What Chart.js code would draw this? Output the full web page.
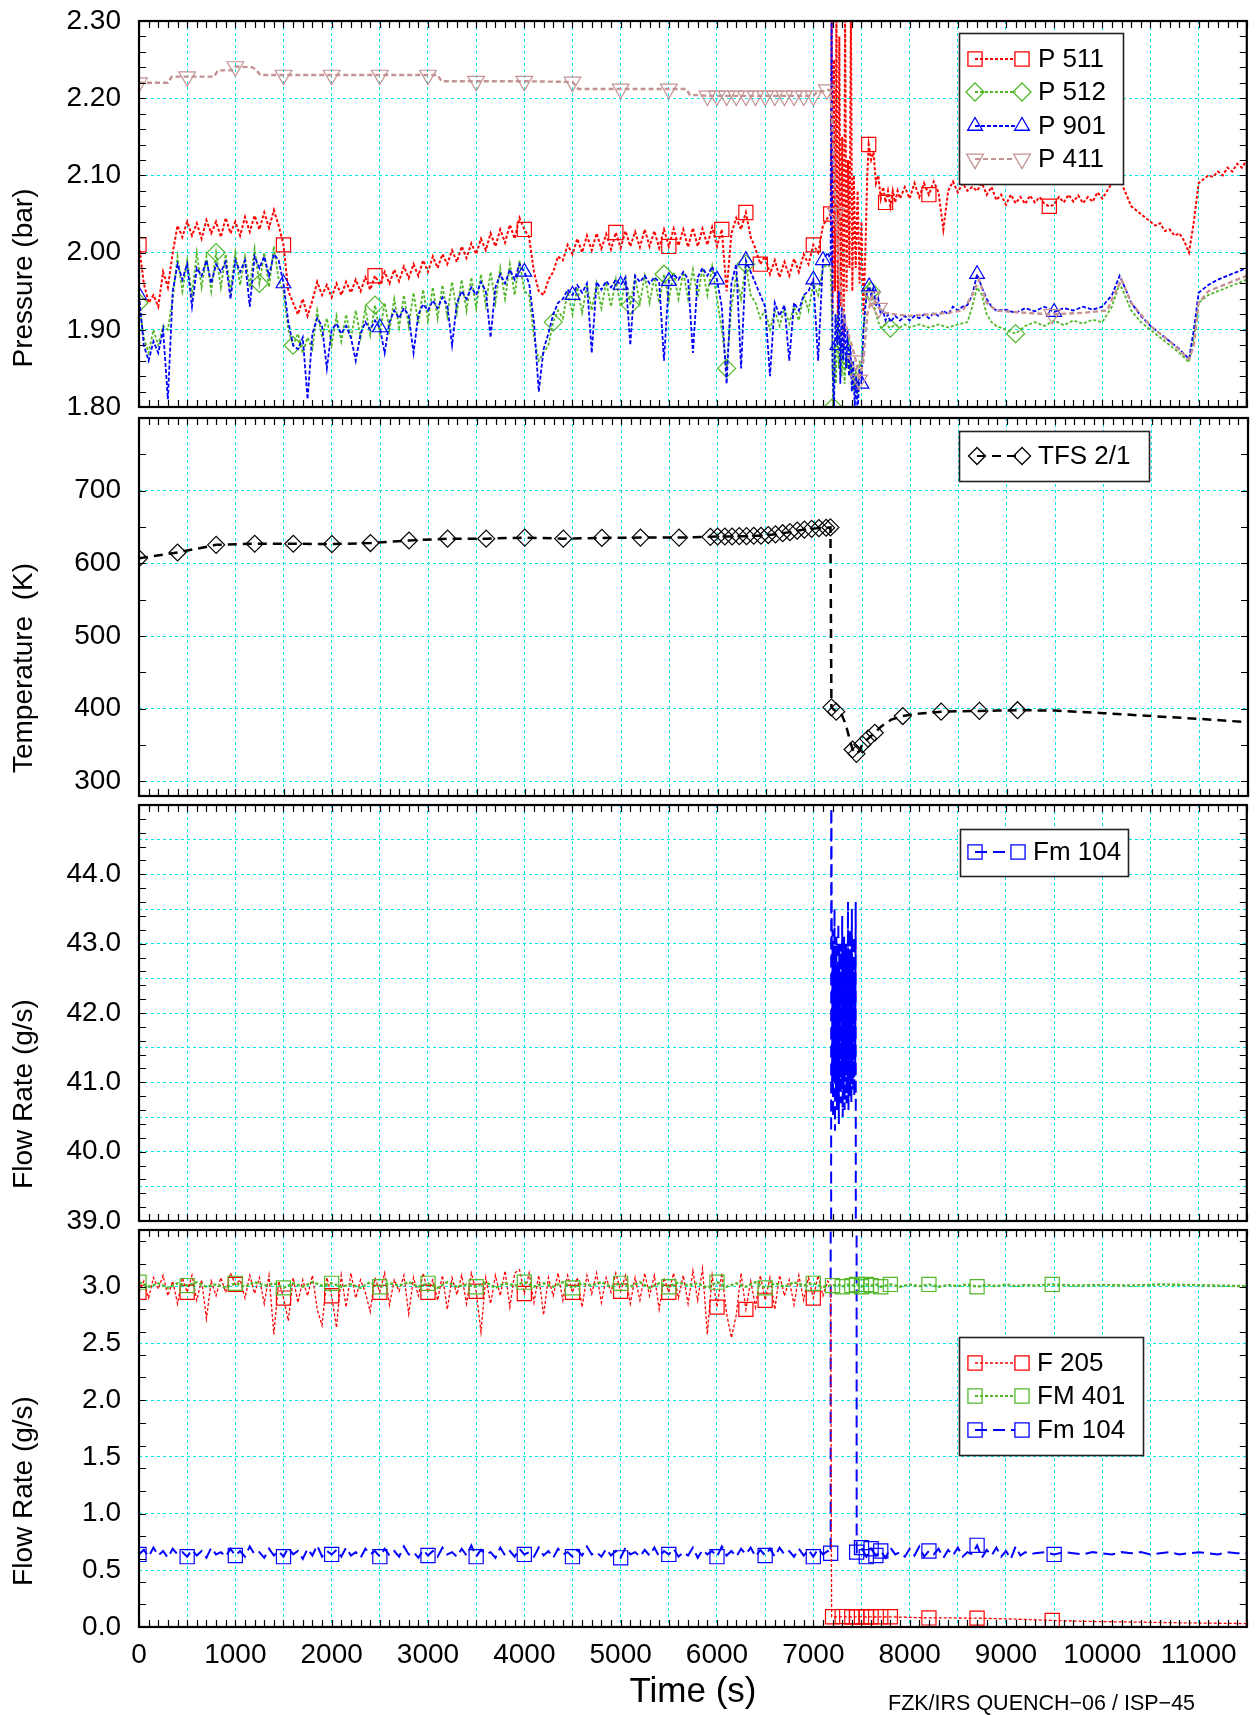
<!DOCTYPE html>
<html>
<head>
<meta charset="utf-8">
<title>QUENCH-06 pressures, temperature and flow rates</title>
<script src="https://cdn.jsdelivr.net/npm/chart.js@4.4.1/dist/chart.umd.min.js"></script>
<style>
  html, body { margin: 0; padding: 0; background: #fff; }
  #wrap { position: relative; width: 1258px; height: 1715px; overflow: hidden; background: #fff; }
  #wrap canvas { position: absolute; left: 0; }
</style>
</head>
<body>
<div id="wrap">
  <canvas id="pressure"></canvas>
  <canvas id="temperature"></canvas>
  <canvas id="flowHigh"></canvas>
  <canvas id="flowLow"></canvas>
</div>
<script>
// ---------------- axes ----------------
const timeGrid = [0, 500, 1000, 1500, 2000, 2500, 3000, 3500, 4000, 4500, 5000, 5500,
                  6000, 6500, 7000, 7500, 8000, 8500, 9000, 9500, 10000, 10500, 11000, 11500];
const pressureTicks = [1.8, 1.9, 2.0, 2.1, 2.2, 2.3];
const temperatureTicks = [300, 400, 500, 600, 700];
const surgeTicks = [39, 39.5, 40, 40.5, 41, 41.5, 42, 42.5, 43, 43.5, 44, 44.5];
const flowTicks = [0, 0.5, 1.0, 1.5, 2.0, 2.5, 3.0];

// ---------------- pressure (bar) ----------------
// P 511, sampled every 50 s from 0 s to 7150 s
const p511Early = [
  2.010, 1.960, 1.935, 1.945, 1.930, 1.975, 1.955, 2.000, 2.035, 2.020,
  2.040, 2.022, 2.038, 2.018, 2.042, 2.025, 2.040, 2.020, 2.045, 2.025,
  2.040, 2.022, 2.046, 2.027, 2.048, 2.030, 2.052, 2.032, 2.055, 2.035,
  2.010, 1.950, 1.935, 1.920, 1.940, 1.918, 1.938, 1.962, 1.945, 1.958,
  1.942, 1.960, 1.945, 1.962, 1.948, 1.965, 1.950, 1.968, 1.952, 1.970,
  1.958, 1.975, 1.960, 1.978, 1.963, 1.982, 1.967, 1.985, 1.970, 1.990,
  1.975, 1.995, 1.980, 1.998, 1.985, 2.003, 1.988, 2.008, 1.993, 2.012,
  1.998, 2.018, 2.003, 2.025, 2.008, 2.030, 2.013, 2.036, 2.018, 2.045,
  2.030, 2.020, 1.975, 1.950, 1.945, 1.965, 1.975, 1.995, 1.990, 2.010,
  1.998, 2.018, 2.000, 2.022, 2.003, 2.025, 2.005, 2.024, 2.004, 2.026,
  2.006, 2.028, 2.008, 2.027, 2.007, 2.030, 2.008, 2.028, 2.006, 2.030,
  2.008, 2.031, 2.009, 2.030, 2.007, 2.032, 2.008, 2.031, 2.010, 2.033,
  2.008, 2.030, 1.950, 2.025, 2.045, 2.030, 2.052, 2.020, 2.005, 1.985,
  1.995, 1.972, 1.990, 1.968, 1.988, 1.970, 1.992, 1.975, 1.998, 1.985,
  2.010, 2.000, 2.035, 2.045
];
const p511Late = [
  [7180, 2.05], [7190, 2.31], [7200, 1.92], [7215, 2.25], [7225, 1.95], [7240, 2.31], [7255, 1.90],
  [7270, 2.28], [7285, 1.93], [7300, 2.15], [7315, 1.88], [7330, 2.31], [7345, 1.95], [7360, 2.12],
  [7375, 1.98], [7390, 2.31], [7405, 1.95], [7420, 2.10], [7440, 1.98], [7460, 2.08], [7480, 1.96],
  [7500, 2.04], [7520, 1.92], [7540, 2.00], [7560, 2.10], [7575, 2.14], [7600, 2.12], [7625, 2.13],
  [7650, 2.09], [7675, 2.10], [7700, 2.07], [7725, 2.085], [7750, 2.065], [7775, 2.08], [7800, 2.06],
  [7825, 2.08], [7850, 2.065], [7875, 2.08], [7900, 2.07], [7950, 2.085], [8000, 2.07], [8050, 2.09],
  [8100, 2.072], [8150, 2.09], [8200, 2.075], [8250, 2.092], [8300, 2.078], [8350, 2.03], [8400, 2.08],
  [8450, 2.092], [8500, 2.078], [8550, 2.09], [8600, 2.08], [8650, 2.085], [8700, 2.08], [8750, 2.09],
  [8800, 2.075], [8850, 2.085], [8900, 2.068], [8950, 2.075], [9000, 2.062], [9050, 2.075], [9100, 2.064],
  [9150, 2.072], [9200, 2.063], [9250, 2.074], [9300, 2.065], [9350, 2.072], [9400, 2.063], [9450, 2.06],
  [9500, 2.062], [9550, 2.072], [9600, 2.065], [9650, 2.075], [9700, 2.066], [9750, 2.074], [9800, 2.064],
  [9850, 2.072], [9900, 2.066], [9950, 2.078], [10000, 2.07], [10050, 2.08], [10100, 2.09], [10150, 2.105],
  [10200, 2.09], [10250, 2.075], [10300, 2.06], [10350, 2.055], [10400, 2.05], [10450, 2.045], [10500, 2.04],
  [10550, 2.035], [10600, 2.038], [10650, 2.028], [10700, 2.03], [10750, 2.022], [10800, 2.025], [10850, 2.015],
  [10900, 2.0], [10950, 2.04], [11000, 2.09], [11050, 2.095], [11100, 2.1], [11150, 2.098], [11200, 2.105],
  [11250, 2.1], [11300, 2.11], [11350, 2.105], [11400, 2.115], [11450, 2.11], [11500, 2.12]
];
const p511Marks = [0, 1500, 2450, 4000, 4950, 5500, 6050, 6300, 6450, 7000, 7180, 7575, 7750, 8200, 9450];

// P 512, sampled every 50 s from 0 s to 7150 s
const p512Early = [
  1.935, 1.890, 1.870, 1.900, 1.880, 1.905, 1.900, 1.940, 1.995, 1.950,
  1.990, 1.945, 2.000, 1.955, 1.995, 1.950, 2.000, 1.955, 1.998, 1.950,
  2.000, 1.958, 1.995, 1.955, 2.005, 1.960, 2.000, 1.955, 2.008, 1.965,
  1.950, 1.900, 1.880, 1.895, 1.870, 1.890, 1.875, 1.925, 1.890, 1.915,
  1.880, 1.918, 1.885, 1.920, 1.888, 1.925, 1.890, 1.928, 1.893, 1.932,
  1.895, 1.935, 1.900, 1.940, 1.903, 1.945, 1.905, 1.948, 1.908, 1.952,
  1.912, 1.955, 1.915, 1.958, 1.918, 1.962, 1.922, 1.965, 1.925, 1.968,
  1.928, 1.972, 1.932, 1.975, 1.935, 1.980, 1.940, 1.985, 1.945, 1.990,
  1.950, 1.945, 1.890, 1.860, 1.870, 1.880, 1.910, 1.925, 1.915, 1.950,
  1.920, 1.955, 1.922, 1.958, 1.925, 1.960, 1.928, 1.962, 1.930, 1.965,
  1.930, 1.966, 1.932, 1.968, 1.935, 1.970, 1.935, 1.968, 1.935, 1.972,
  1.938, 1.975, 1.940, 1.975, 1.940, 1.978, 1.942, 1.980, 1.945, 1.982,
  1.940, 1.900, 1.850, 1.930, 1.970, 1.940, 1.985, 1.945, 1.935, 1.915,
  1.925, 1.900, 1.925, 1.905, 1.928, 1.908, 1.930, 1.912, 1.945, 1.925,
  1.960, 1.945, 1.980, 1.985
];
const p512Late = [
  [7180, 1.98], [7195, 1.90], [7205, 1.80], [7220, 1.88], [7235, 1.83], [7250, 1.92], [7265, 1.85],
  [7280, 1.90], [7295, 1.84], [7310, 1.88], [7325, 1.83], [7340, 1.87], [7355, 1.85], [7370, 1.89],
  [7385, 1.84], [7400, 1.86], [7420, 1.82], [7440, 1.85], [7460, 1.81], [7480, 1.86], [7500, 1.84],
  [7520, 1.90], [7540, 1.93], [7560, 1.955], [7580, 1.96], [7600, 1.95], [7625, 1.935], [7650, 1.92],
  [7675, 1.91], [7700, 1.903], [7750, 1.907], [7800, 1.902], [7850, 1.907], [7900, 1.903], [7950, 1.907],
  [8000, 1.903], [8100, 1.907], [8200, 1.903], [8300, 1.907], [8400, 1.903], [8500, 1.907], [8600, 1.91],
  [8650, 1.93], [8700, 1.955], [8750, 1.945], [8800, 1.92], [8850, 1.91], [8900, 1.905], [9000, 1.90],
  [9100, 1.895], [9200, 1.905], [9300, 1.91], [9400, 1.905], [9500, 1.912], [9600, 1.906], [9700, 1.912],
  [9800, 1.908], [9900, 1.913], [10000, 1.91], [10100, 1.93], [10180, 1.96], [10250, 1.94], [10300, 1.925],
  [10400, 1.91], [10500, 1.90], [10600, 1.89], [10700, 1.88], [10800, 1.87], [10900, 1.858], [10950, 1.89],
  [11000, 1.935], [11100, 1.945], [11200, 1.95], [11300, 1.955], [11400, 1.96], [11500, 1.965]
];
const p512Marks = [0, 800, 1250, 1600, 2450, 4300, 5100, 5450, 6100, 6300, 7205, 7600, 7800, 9100];

// P 901, sampled every 50 s from 0 s to 7150 s
const p901Early = [
  1.945, 1.880, 1.860, 1.885, 1.870, 1.900, 1.810, 1.950, 1.985, 1.965,
  1.985, 1.930, 1.980, 1.970, 1.990, 1.960, 1.985, 1.975, 1.988, 1.940,
  1.990, 1.975, 1.990, 1.930, 1.995, 1.980, 1.995, 1.970, 1.998, 1.990,
  1.960, 1.910, 1.880, 1.875, 1.890, 1.810, 1.895, 1.915, 1.905, 1.850,
  1.900, 1.908, 1.895, 1.905, 1.890, 1.860, 1.895, 1.910, 1.900, 1.912,
  1.903, 1.870, 1.910, 1.925, 1.915, 1.928, 1.918, 1.870, 1.920, 1.933,
  1.925, 1.938, 1.928, 1.942, 1.932, 1.880, 1.935, 1.950, 1.940, 1.955,
  1.945, 1.962, 1.950, 1.890, 1.955, 1.972, 1.960, 1.978, 1.965, 1.985,
  1.975, 1.960, 1.910, 1.820, 1.875, 1.895, 1.920, 1.935, 1.940, 1.952,
  1.945, 1.958, 1.948, 1.960, 1.870, 1.962, 1.952, 1.963, 1.955, 1.965,
  1.958, 1.968, 1.880, 1.970, 1.962, 1.970, 1.960, 1.968, 1.962, 1.860,
  1.963, 1.972, 1.965, 1.975, 1.966, 1.870, 1.968, 1.980, 1.970, 1.982,
  1.965, 1.930, 1.830, 1.960, 1.985, 1.850, 1.990, 1.975, 1.960, 1.945,
  1.930, 1.840, 1.935, 1.918, 1.932, 1.860, 1.935, 1.925, 1.945, 1.950,
  1.965, 1.860, 1.990, 2.000
];
const p901Late = [
  [7180, 1.99], [7190, 2.31], [7200, 1.85], [7215, 1.80], [7230, 1.92], [7250, 1.88], [7265, 1.95],
  [7280, 1.83], [7295, 1.93], [7310, 1.86], [7325, 1.92], [7340, 1.85], [7355, 1.90], [7370, 1.84],
  [7385, 1.88], [7400, 1.82], [7415, 1.86], [7430, 1.80], [7445, 1.84], [7460, 1.79], [7480, 1.85],
  [7500, 1.83], [7520, 1.90], [7540, 1.93], [7560, 1.95], [7580, 1.956], [7600, 1.945], [7625, 1.955],
  [7650, 1.93], [7675, 1.94], [7700, 1.92], [7725, 1.925], [7750, 1.912], [7775, 1.92], [7800, 1.91],
  [7850, 1.918], [7900, 1.912], [7950, 1.918], [8000, 1.912], [8050, 1.918], [8100, 1.915], [8150, 1.92],
  [8200, 1.915], [8250, 1.922], [8300, 1.918], [8350, 1.925], [8400, 1.92], [8450, 1.93], [8500, 1.925],
  [8550, 1.93], [8600, 1.932], [8650, 1.945], [8700, 1.972], [8750, 1.955], [8800, 1.94], [8850, 1.93],
  [8900, 1.925], [9000, 1.926], [9100, 1.922], [9200, 1.928], [9300, 1.924], [9400, 1.93], [9500, 1.923],
  [9600, 1.928], [9700, 1.925], [9800, 1.93], [9900, 1.926], [10000, 1.93], [10100, 1.945], [10180, 1.97],
  [10250, 1.95], [10300, 1.935], [10400, 1.918], [10500, 1.905], [10600, 1.895], [10700, 1.885], [10800, 1.875],
  [10900, 1.862], [10950, 1.90], [11000, 1.948], [11100, 1.958], [11200, 1.965], [11300, 1.97], [11400, 1.975],
  [11500, 1.98]
];
const p901Marks = [0, 1500, 2500, 4000, 4500, 5000, 5500, 6000, 6300, 7000, 7100, 7250, 7500, 7580, 8700, 9500];

// P 411
const p411Points = [
  [0, 2.220], [300, 2.220], [340, 2.228], [500, 2.228], [780, 2.228], [820, 2.236], [960, 2.236],
  [1000, 2.241], [1180, 2.240], [1220, 2.236], [1260, 2.230], [1500, 2.230], [2000, 2.230], [2500, 2.230],
  [3000, 2.230], [3100, 2.230], [3140, 2.222], [3500, 2.222], [4000, 2.222], [4500, 2.221], [4560, 2.212],
  [5000, 2.212], [5500, 2.212], [5680, 2.212], [5720, 2.204], [5800, 2.204], [5900, 2.203], [6000, 2.203],
  [6100, 2.203], [6200, 2.203], [6300, 2.203], [6400, 2.203], [6500, 2.203], [6600, 2.203], [6700, 2.203],
  [6800, 2.203], [6900, 2.203], [7000, 2.203], [7040, 2.208], [7100, 2.209], [7140, 2.211], [7180, 2.21],
  [7200, 2.16], [7234, 2.051], [7270, 1.97], [7310, 1.92], [7350, 1.90], [7400, 1.88], [7442, 1.86],
  [7476, 1.835], [7520, 1.86], [7560, 1.92], [7612, 1.943], [7650, 1.935], [7680, 1.928], [7750, 1.922],
  [7850, 1.92], [8000, 1.918], [8200, 1.92], [8400, 1.922], [8550, 1.925], [8650, 1.945], [8720, 1.965],
  [8800, 1.935], [8900, 1.925], [9200, 1.922], [9480, 1.920], [9800, 1.922], [10050, 1.925], [10120, 1.945],
  [10200, 1.965], [10300, 1.935], [10500, 1.905], [10700, 1.885], [10900, 1.862], [10950, 1.88], [11000, 1.935],
  [11100, 1.95], [11300, 1.96], [11500, 1.97]
];
const p411Marks = [0, 500, 1000, 1500, 2000, 2500, 3000, 3500, 4000, 4500, 5000, 5500, 5900, 6000, 6100,
  6200, 6300, 6400, 6500, 6600, 6700, 6800, 6900, 7000, 7140, 7234, 7442, 7476, 7612, 7680, 9480];

// ---------------- temperature (K) ----------------
const tfsPoints = [
  [0, 607], [400, 615], [800, 625.5], [1200, 627], [1600, 627], [2000, 626.5], [2400, 628], [2800, 631.5],
  [3200, 634], [3600, 634], [4000, 635.5], [4400, 634], [4800, 635], [5200, 635.5], [5600, 635.5],
  [5925, 636.5], [6000, 637], [6075, 637], [6150, 637], [6225, 637.5], [6300, 637.5], [6375, 638], [6450, 638],
  [6525, 639], [6600, 640], [6675, 641.5], [6750, 643], [6825, 645], [6900, 646.5], [6975, 647.5], [7050, 648.5],
  [7125, 649], [7170, 649.5], [7180, 402], [7230, 396], [7290, 391], [7330, 378], [7365, 360], [7400, 344],
  [7440, 338], [7470, 342], [7500, 351], [7560, 359], [7630, 367], [7700, 376], [7800, 385], [7920, 390],
  [8050, 393], [8318, 396], [8500, 396.5], [8715, 397], [8900, 397.5], [9110, 398], [9500, 397.5],
  [10000, 394], [10500, 390], [11000, 386], [11450, 382]
];
const tfsMarks = [0, 400, 800, 1200, 1600, 2000, 2400, 2800, 3200, 3600, 4000, 4400, 4800, 5200, 5600,
  5925, 6000, 6075, 6150, 6225, 6300, 6375, 6450, 6525, 6600, 6675, 6750, 6825, 6900, 6975, 7050, 7125, 7170,
  7180, 7230, 7400, 7440, 7500, 7560, 7630, 7920, 8318, 8715, 9110];

// ---------------- flow rates (g/s) ----------------
// F 205, sampled every 50 s from 0 s to 7150 s
const f205Early = [
  2.95, 3.05, 2.90, 3.08, 2.98, 3.10, 2.92, 3.05, 2.85, 3.08,
  2.95, 3.10, 2.88, 3.06, 2.72, 3.05, 2.92, 3.08, 2.95, 3.12,
  3.02, 3.06, 2.90, 3.10, 2.94, 3.08, 2.85, 3.10, 2.58, 3.05,
  2.90, 2.70, 3.08, 2.86, 3.06, 2.92, 3.10, 2.80, 2.66, 3.08,
  2.92, 2.64, 3.10, 2.82, 3.12, 2.90, 3.06, 2.95, 2.78, 3.08,
  2.95, 3.12, 2.84, 3.06, 2.96, 3.10, 2.76, 3.08, 2.92, 3.12,
  2.95, 3.06, 2.88, 3.10, 2.80, 3.08, 2.93, 3.10, 2.85, 3.12,
  2.96, 2.60, 3.08, 2.85, 3.10, 2.92, 3.14, 2.82, 3.12, 3.15,
  2.94, 3.12, 2.86, 3.10, 2.75, 3.08, 2.92, 3.12, 2.88, 3.10,
  2.95, 3.08, 2.82, 3.10, 2.94, 3.12, 2.86, 3.08, 2.95, 3.12,
  2.96, 3.10, 2.85, 3.08, 2.88, 3.12, 2.92, 3.10, 2.80, 3.08,
  2.95, 3.12, 2.90, 3.10, 2.85, 3.14, 2.88, 3.16, 2.58, 3.10,
  2.82, 3.12, 2.76, 2.55, 2.75, 3.12, 2.80, 3.05, 2.82, 3.10,
  2.88, 3.08, 2.80, 3.10, 2.92, 3.06, 2.84, 3.10, 2.88, 3.08,
  2.90, 3.10, 2.92, 3.05
];
const f205Late = [
  [7180, 3.02], [7190, 0.09], [7200, 0.09], [7250, 0.088], [7300, 0.092], [7350, 0.09], [7400, 0.088],
  [7450, 0.09], [7500, 0.092], [7550, 0.088], [7600, 0.09], [7650, 0.088], [7700, 0.09], [7750, 0.088],
  [7800, 0.09], [8000, 0.085], [8200, 0.08], [8450, 0.08], [8700, 0.078], [9000, 0.072], [9250, 0.065],
  [9480, 0.058], [9800, 0.05], [10200, 0.045], [10600, 0.04], [11000, 0.035], [11500, 0.03]
];
const f205Marks = [0, 500, 1000, 1500, 2000, 2500, 3000, 3500, 4000, 4500, 5000, 5500, 6000, 6300, 6500, 7000,
  7200, 7300, 7400, 7450, 7500, 7550, 7600, 7700, 7800, 8200, 8700, 9480];

// FM 401, sampled every 100 s from 0 s to 7100 s
const fm401Early = [
  3.04, 3.00, 3.03, 2.99, 3.03, 3.01, 3.04, 3.00, 3.02, 2.99,
  3.03, 3.00, 3.04, 3.01, 3.03, 2.99, 3.03, 3.00, 3.04, 3.01,
  3.03, 3.00, 3.02, 2.99, 3.04, 3.00, 3.03, 3.01, 3.04, 3.00,
  3.03, 2.99, 3.04, 3.00, 3.02, 3.00, 3.04, 2.99, 3.03, 3.01,
  3.04, 3.00, 3.03, 3.00, 3.04, 2.99, 3.03, 3.01, 3.04, 3.00,
  3.03, 3.00, 3.04, 2.99, 3.03, 3.00, 3.04, 3.01, 3.03, 2.99,
  3.04, 3.00, 3.03, 3.00, 3.04, 2.99, 3.03, 3.00, 3.04, 3.01,
  3.03, 3.00
];
const fm401Late = [
  [7200, 3.01], [7250, 3.02], [7300, 3.00], [7350, 3.02], [7400, 3.01], [7450, 3.02], [7500, 3.00],
  [7550, 3.02], [7600, 3.01], [7650, 3.02], [7700, 3.00], [7750, 3.01], [7800, 3.02], [7900, 3.00],
  [8000, 3.02], [8100, 3.005], [8200, 3.02], [8300, 3.00], [8400, 3.015], [8500, 3.005], [8600, 3.02],
  [8700, 3.00], [8800, 3.015], [8900, 3.005], [9000, 3.02], [9100, 3.005], [9200, 3.015], [9300, 3.01],
  [9480, 3.02], [9700, 3.01], [10000, 3.015], [10300, 3.01], [10600, 3.02], [10900, 3.015], [11200, 3.01],
  [11500, 3.005]
];
const fm401Marks = [0, 500, 1000, 1500, 2000, 2500, 3000, 3500, 4000, 4500, 5000, 5500, 6000, 6500, 7000,
  7200, 7300, 7400, 7450, 7500, 7550, 7600, 7700, 7800, 8200, 8700, 9480];

// Fm 104, sampled every 50 s from 0 s to 7150 s
const fm104Early = [
  0.64, 0.68, 0.62, 0.70, 0.63, 0.67, 0.61, 0.69, 0.64, 0.66,
  0.62, 0.68, 0.63, 0.67, 0.61, 0.70, 0.64, 0.66, 0.62, 0.69,
  0.63, 0.67, 0.62, 0.71, 0.64, 0.66, 0.61, 0.69, 0.63, 0.67,
  0.62, 0.70, 0.64, 0.67, 0.60, 0.69, 0.63, 0.72, 0.62, 0.67,
  0.64, 0.68, 0.62, 0.70, 0.63, 0.66, 0.61, 0.69, 0.64, 0.67,
  0.62, 0.69, 0.63, 0.67, 0.62, 0.71, 0.64, 0.66, 0.61, 0.68,
  0.63, 0.67, 0.62, 0.70, 0.64, 0.66, 0.62, 0.69, 0.63, 0.72,
  0.62, 0.68, 0.64, 0.66, 0.61, 0.70, 0.63, 0.67, 0.62, 0.69,
  0.64, 0.66, 0.62, 0.70, 0.63, 0.67, 0.61, 0.69, 0.64, 0.66,
  0.62, 0.68, 0.63, 0.71, 0.64, 0.66, 0.62, 0.69, 0.63, 0.67,
  0.61, 0.70, 0.64, 0.66, 0.62, 0.68, 0.63, 0.70, 0.62, 0.67,
  0.64, 0.69, 0.62, 0.66, 0.63, 0.70, 0.61, 0.68, 0.64, 0.67,
  0.62, 0.71, 0.63, 0.67, 0.62, 0.69, 0.64, 0.70, 0.62, 0.68,
  0.63, 0.69, 0.62, 0.70, 0.64, 0.67, 0.62, 0.69, 0.63, 0.68,
  0.62, 0.69, 0.64, 0.67
];
const fm104Jump = [[7180, 0.65], [7186, 46.0]];
// surge, sampled every 5 s from 7190 s to 7440 s
const fm104Surge = [
  43.8, 40.9, 43.2, 40.5, 42.9, 41.0, 43.5, 40.3, 42.8, 40.8,
  43.1, 40.6, 42.7, 41.1, 43.3, 40.4, 42.9, 40.9, 43.0, 40.7,
  42.6, 41.0, 43.4, 40.5, 42.8, 40.8, 43.1, 40.6, 42.9, 41.2,
  43.0, 40.7, 42.7, 40.9, 43.6, 40.6, 42.8, 41.0, 43.2, 40.8,
  42.9, 40.7, 43.5, 41.0, 42.8, 40.9, 43.1, 40.8, 42.6, 41.1,
  43.6
];
// sampled every 50 s from 7450 s to 9250 s
const fm104Late = [
  0.66, 0.70, 0.62, 0.69, 0.63, 0.67, 0.61, 0.70, 0.64, 0.66,
  0.62, 0.69, 0.63, 0.71, 0.62, 0.67, 0.64, 0.69, 0.61, 0.68,
  0.63, 0.70, 0.62, 0.66, 0.64, 0.72, 0.61, 0.68, 0.63, 0.70,
  0.62, 0.67, 0.60, 0.71, 0.63, 0.66, 0.64
];
// sampled every 100 s from 9300 s to 11500 s
const fm104Tail = [
  0.65, 0.66, 0.64, 0.66, 0.65, 0.64, 0.66, 0.65, 0.64, 0.66,
  0.65, 0.66, 0.64, 0.65, 0.66, 0.64, 0.65, 0.66, 0.65, 0.64,
  0.66, 0.65, 0.65
];
const fm104Marks = [0, 500, 1000, 1500, 2000, 2500, 3000, 3500, 4000, 4500, 5000, 5500, 6000, 6500, 7000,
  7180, 7450, 7500, 7550, 7600, 7650, 7700, 8200, 8700, 9500];

// ---------------- helpers ----------------
function sampled(start, step, values) { return values.map((v, i) => ({ x: start + i * step, y: v })); }
function pairs(list) { return list.map(p => ({ x: p[0], y: p[1] })); }

const FONT = '"Liberation Sans", Arial, Helvetica, sans-serif';
const GRID = 'rgb(0,228,236)';
const RED = '#ff0000', GREEN = 'rgb(82,184,42)', BLUE = '#0000ff', ROSY = 'rgb(196,146,146)', BLACK = '#000000';
const PLOT_LEFT = 139, PLOT_RIGHT = 1248;

function lineSet(label, data, color, width, dash, style, r, marks, extra) {
  const marked = new Set(marks);
  return Object.assign({
    label: label, data: data,
    borderColor: color, borderWidth: width, borderDash: dash,
    pointStyle: style, markR: r,
    pointRadius: c => (c.raw && marked.has(c.raw.x)) ? r : 0,
    pointBorderColor: color, pointBackgroundColor: 'rgba(0,0,0,0)', pointBorderWidth: 1.2,
    fill: false, tension: 0, spanGaps: true
  }, extra || {});
}

function drawMarker(ctx, ds, x, y) {
  if (Chart.helpers && Chart.helpers.drawPoint) {
    Chart.helpers.drawPoint(ctx, { pointStyle: ds.pointStyle, radius: ds.markR, rotation: ds.pointRotation || 0, borderWidth: 1.3 }, x, y);
  }
}

// frame, inward ticks, axis titles and boxed legends
const panelDecor = {
  id: 'panelDecor',
  afterDatasetsDraw(chart, args, o) {
    const ctx = chart.ctx, a = chart.chartArea, xs = chart.scales.x, ys = chart.scales.y;
    const off = o.offsetTop, tl = 7;
    ctx.save();
    ctx.setLineDash([]);
    ctx.strokeStyle = '#000';
    ctx.lineWidth = 1.2;
    ctx.beginPath();
    let i0 = Math.ceil(xs.min / o.xMinor - 1e-9), i1 = Math.floor(xs.max / o.xMinor + 1e-9);
    for (let i = i0; i <= i1; i++) {
      const px = Math.round(xs.getPixelForValue(i * o.xMinor)) + 0.5;
      ctx.moveTo(px, a.top); ctx.lineTo(px, a.top + tl);
      ctx.moveTo(px, a.bottom); ctx.lineTo(px, a.bottom - tl);
    }
    i0 = Math.ceil(ys.min / o.yMinor - 1e-9); i1 = Math.floor(ys.max / o.yMinor + 1e-9);
    for (let i = i0; i <= i1; i++) {
      const py = Math.round(ys.getPixelForValue(i * o.yMinor)) + 0.5;
      ctx.moveTo(a.left, py); ctx.lineTo(a.left + tl, py);
      ctx.moveTo(a.right, py); ctx.lineTo(a.right - tl, py);
    }
    ctx.stroke();
    ctx.lineWidth = 2.2;
    ctx.strokeRect(a.left, a.top, a.right - a.left, a.bottom - a.top);

    ctx.fillStyle = '#000';
    if (o.yTitle) {
      ctx.save();
      ctx.translate(o.yTitle.cx, o.yTitle.cy - off);
      ctx.rotate(-Math.PI / 2);
      ctx.font = '28px ' + FONT;
      ctx.textAlign = 'center'; ctx.textBaseline = 'middle';
      ctx.fillText(o.yTitle.text, 0, 0);
      ctx.restore();
    }
    if (o.xTitle) {
      ctx.font = '35px ' + FONT;
      ctx.textAlign = 'center'; ctx.textBaseline = 'alphabetic';
      ctx.fillText(o.xTitle.text, o.xTitle.cx, o.xTitle.base - off);
    }
    if (o.footer) {
      ctx.font = '21.5px ' + FONT;
      ctx.textAlign = 'left'; ctx.textBaseline = 'alphabetic';
      ctx.fillText(o.footer.text, o.footer.x, o.footer.base - off);
    }

    const L = o.legend;
    if (L) {
      ctx.fillStyle = '#fff';
      ctx.fillRect(L.x, L.y - off, L.w, L.h);
      ctx.strokeStyle = '#222'; ctx.lineWidth = 1.6;
      ctx.strokeRect(L.x + 0.5, L.y - off + 0.5, L.w, L.h);
      L.rows.forEach(row => {
        const ds = chart.data.datasets[row.ds];
        const y = row.y - off;
        ctx.strokeStyle = ds.borderColor;
        ctx.lineWidth = Math.min(ds.borderWidth, 2);
        ctx.setLineDash(ds.borderDash || []);
        ctx.beginPath(); ctx.moveTo(L.m1, y); ctx.lineTo(L.m2 - ds.markR * 0.7, y); ctx.stroke();
        ctx.setLineDash([]);
        ctx.lineWidth = 1.3;
        ctx.fillStyle = 'rgba(0,0,0,0)';
        drawMarker(ctx, ds, L.m1, y);
        drawMarker(ctx, ds, L.m2, y);
        ctx.fillStyle = '#000';
        ctx.font = '26px ' + FONT;
        ctx.textAlign = 'left'; ctx.textBaseline = 'middle';
        ctx.fillText(ds.label, L.tx, y + 1);
      });
    }
    ctx.restore();
  }
};

function buildPanel(id, g) {
  const cv = document.getElementById(id);
  cv.width = 1258; cv.height = g.height; cv.style.top = g.top + 'px';
  const pad = { top: 20, bottom: g.padBottom, left: 0, right: 1258 - PLOT_RIGHT };
  const chart = new Chart(cv, {
    type: 'line',
    data: { datasets: g.datasets },
    options: {
      responsive: false, animation: false, events: [],
      layout: { padding: pad },
      plugins: { legend: { display: false }, tooltip: { enabled: false }, panelDecor: g.decor },
      scales: {
        x: {
          type: 'linear', min: 0, max: 11500,
          afterBuildTicks: s => { s.ticks = timeGrid.map(v => ({ value: v })); },
          afterFit: s => { s.height = g.xHeight; },
          // invisible tick marks carry the gap between the frame and the labels
          grid: { color: GRID, lineWidth: 1, drawTicks: g.showTime, tickLength: 11, tickColor: 'rgba(0,0,0,0)' },
          border: { display: false, dash: [3, 3] },
          ticks: {
            display: g.showTime, autoSkip: false, maxRotation: 0, minRotation: 0, padding: 0,
            color: '#000', font: { family: FONT, size: 28 },
            callback: v => (v % 1000 === 0 ? String(v) : '')
          }
        },
        y: {
          type: 'linear', min: g.yMin, max: g.yMax,
          afterBuildTicks: s => { s.ticks = g.yTicks.map(v => ({ value: v })); },
          afterFit: s => { s.width = PLOT_LEFT; },
          grid: { color: GRID, lineWidth: 1, drawTicks: true, tickLength: 18, tickColor: 'rgba(0,0,0,0)' },
          border: { display: false, dash: [3, 3] },
          ticks: { autoSkip: false, padding: 0, color: '#000', font: { family: FONT, size: 28 }, callback: g.yLabel }
        }
      }
    },
    plugins: [panelDecor]
  });
  // pin the plot area to its place on the page
  const wantTop = g.areaTop - g.top, wantBottom = g.areaBottom - g.top;
  for (let k = 0; k < 4; k++) {
    const a = chart.chartArea;
    const dt = wantTop - a.top, db = a.bottom - wantBottom;
    if (Math.abs(dt) < 0.5 && Math.abs(db) < 0.5) break;
    const next = Object.assign({}, chart.config.options.layout.padding);
    next.top = Math.max(0, next.top + dt);
    let nb = next.bottom + db;
    if (nb < 0) { g.xHeight = Math.max(0, g.xHeight + nb); nb = 0; }
    next.bottom = nb;
    chart.config.options.layout.padding = next;
    chart.update();
  }
  return chart;
}

// ---------------- series ----------------
const p511 = sampled(0, 50, p511Early).concat(pairs(p511Late));
const p512 = sampled(0, 50, p512Early).concat(pairs(p512Late));
const p901 = sampled(0, 50, p901Early).concat(pairs(p901Late));
const p411 = pairs(p411Points);
const tfs = pairs(tfsPoints);
const f205 = sampled(0, 50, f205Early).concat(pairs(f205Late));
const fm401 = sampled(0, 100, fm401Early).concat(pairs(fm401Late));
const fm104 = sampled(0, 50, fm104Early)
  .concat(pairs(fm104Jump))
  .concat(sampled(7190, 5, fm104Surge))
  .concat(sampled(7450, 50, fm104Late))
  .concat(sampled(9300, 100, fm104Tail));

// ---------------- panels ----------------
buildPanel('pressure', {
  top: 1, height: 426, areaTop: 21, areaBottom: 407, padBottom: 20, xHeight: 0, showTime: false,
  yMin: 1.8, yMax: 2.3, yTicks: pressureTicks, yLabel: v => v.toFixed(2),
  datasets: [
    lineSet('P 511', p511, RED, 2, [3, 2], 'rect', 10, p511Marks, { order: 3 }),
    lineSet('P 512', p512, GREEN, 1.8, [3, 2], 'rectRot', 9, p512Marks, { order: 2 }),
    lineSet('P 901', p901, BLUE, 1.8, [4, 2], 'triangle', 8.5, p901Marks, { order: 1 }),
    lineSet('P 411', p411, ROSY, 2.4, [5, 3], 'triangle', 9.6, p411Marks, { order: 0, pointRotation: 180 })
  ],
  decor: {
    offsetTop: 1, xMinor: 100, yMinor: 0.02,
    yTitle: { text: 'Pressure (bar)', cx: 24, cy: 278 },
    legend: { x: 959, y: 33, w: 164, h: 151, m1: 975, m2: 1022, tx: 1038,
      rows: [{ ds: 0, y: 59 }, { ds: 1, y: 92 }, { ds: 2, y: 126 }, { ds: 3, y: 159 }] }
  }
});

buildPanel('temperature', {
  top: 398, height: 418, areaTop: 418, areaBottom: 796, padBottom: 20, xHeight: 0, showTime: false,
  yMin: 280, yMax: 800, yTicks: temperatureTicks, yLabel: v => String(v),
  datasets: [
    lineSet('TFS 2/1', tfs, BLACK, 2.5, [9, 6], 'rectRot', 8.5, tfsMarks)
  ],
  decor: {
    offsetTop: 398, xMinor: 100, yMinor: 50,
    yTitle: { text: 'Temperature  (K)', cx: 24, cy: 668 },
    legend: { x: 959, y: 431, w: 190, h: 50, m1: 977, m2: 1022, tx: 1038, rows: [{ ds: 0, y: 456 }] }
  }
});

buildPanel('flowHigh', {
  top: 785, height: 456, areaTop: 805, areaBottom: 1221, padBottom: 20, xHeight: 0, showTime: false,
  yMin: 39, yMax: 45, yTicks: surgeTicks, yLabel: v => (Number.isInteger(v) ? v.toFixed(1) : ''),
  datasets: [
    lineSet('Fm 104', fm104.slice(), BLUE, 2, [12, 6], 'rect', 10, fm104Marks)
  ],
  decor: {
    offsetTop: 785, xMinor: 100, yMinor: 0.2,
    yTitle: { text: 'Flow Rate (g/s)', cx: 24, cy: 1094 },
    legend: { x: 960, y: 829, w: 168, h: 47, m1: 975, m2: 1018, tx: 1033, rows: [{ ds: 0, y: 852 }] }
  }
});

buildPanel('flowLow', {
  top: 1210, height: 505, areaTop: 1230, areaBottom: 1627, padBottom: 6, xHeight: 82, showTime: true,
  yMin: 0, yMax: 3.5, yTicks: flowTicks, yLabel: v => v.toFixed(1),
  datasets: [
    lineSet('F 205', f205, RED, 1.3, [3, 2], 'rect', 10, f205Marks, { order: 1 }),
    lineSet('FM 401', fm401, GREEN, 2.4, [3, 2], 'rect', 10, fm401Marks, { order: 0 }),
    lineSet('Fm 104', fm104.slice(), BLUE, 2, [12, 6], 'rect', 10, fm104Marks, { order: 2 })
  ],
  decor: {
    offsetTop: 1210, xMinor: 100, yMinor: 0.2,
    yTitle: { text: 'Flow Rate (g/s)', cx: 24, cy: 1491 },
    xTitle: { text: 'Time (s)', cx: 693, base: 1702 },
    footer: { text: 'FZK/IRS QUENCH\u221206 / ISP\u221245', x: 888, base: 1710 },
    legend: { x: 959, y: 1337, w: 184, h: 118, m1: 975, m2: 1022, tx: 1037,
      rows: [{ ds: 0, y: 1363 }, { ds: 1, y: 1396 }, { ds: 2, y: 1430 }] }
  }
});
</script>
</body>
</html>
